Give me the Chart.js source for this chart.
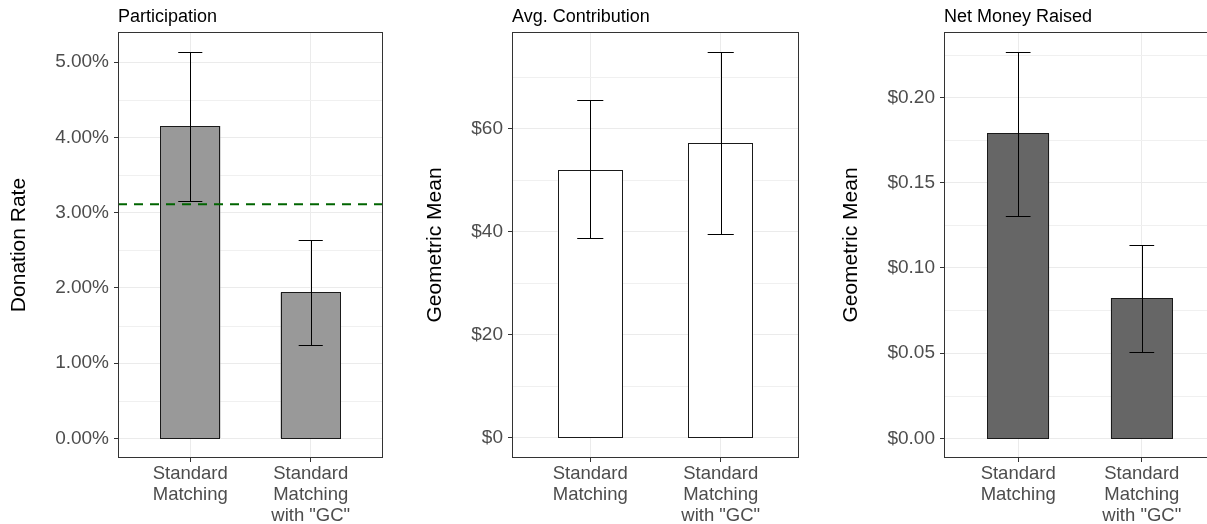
<!DOCTYPE html>
<html>
<head>
<meta charset="utf-8">
<script src="https://cdn.jsdelivr.net/npm/chart.js@4.4.0/dist/chart.umd.min.js"></script>
<style>
  html, body { margin: 0; padding: 0; background: #fff; }
  #wrap { position: relative; width: 1207px; height: 524px; overflow: hidden; background: #fff; }
  #wrap canvas { position: absolute; top: 0; }
</style>
</head>
<body>
<div id="wrap">
  <canvas id="chartParticipation" width="400" height="524" style="left:0"></canvas>
  <canvas id="chartContribution" width="410" height="524" style="left:400px"></canvas>
  <canvas id="chartNetRaised" width="406" height="524" style="left:810px"></canvas>
</div>
<script>
// groups on the x axis (multi-line labels)
const categories = [['Standard', 'Matching'], ['Standard', 'Matching', 'with "GC"']];

// Participation: donation rate in %, with confidence bounds
const participation = [4.15, 1.94];
const participationLow = [3.15, 1.24];
const participationHigh = [5.14, 2.64];
const baselineRate = 3.11;
const participationTicks = [0, 1, 2, 3, 4, 5];

// Avg. contribution: geometric mean in $
const contribution = [52.0, 57.2];
const contributionLow = [38.8, 39.6];
const contributionHigh = [65.5, 74.9];
const contributionTicks = [0, 20, 40, 60];

// Net money raised: geometric mean in $
const netRaised = [0.179, 0.0823];
const netRaisedLow = [0.1304, 0.0505];
const netRaisedHigh = [0.2268, 0.1134];
const netRaisedTicks = [0, 0.05, 0.10, 0.15, 0.20];

const FONT = '"Liberation Sans", Arial, sans-serif';
Chart.defaults.font.family = FONT;

// minor grid, bar outlines, error bars, reference line, frame and panel title
const panelPlugin = {
  id: 'panel',
  beforeDatasetsDraw(chart, args, opts) {
    const { ctx, chartArea: a, scales: { y } } = chart;
    const t = opts.ticks;
    const step = t[1] - t[0];
    ctx.save();
    ctx.strokeStyle = '#f0f0f0';
    ctx.lineWidth = 1;
    for (let i = 0; i < t.length; i++) {
      const v = t[i] + step / 2;
      if (v > y.max) break;
      const py = Math.round(y.getPixelForValue(v)) + 0.5;
      ctx.beginPath();
      ctx.moveTo(a.left, py);
      ctx.lineTo(a.right, py);
      ctx.stroke();
    }
    ctx.restore();
  },
  afterDatasetsDraw(chart, args, opts) {
    const { ctx, chartArea: a, scales: { x, y } } = chart;
    ctx.save();
    ctx.strokeStyle = '#1a1a1a';
    ctx.lineWidth = 1;
    chart.getDatasetMeta(0).data.forEach(bar => {
      const p = bar.getProps(['x', 'y', 'base', 'width'], true);
      const l = Math.round(p.x - p.width / 2) + 0.5;
      const r = Math.round(p.x + p.width / 2) - 0.5;
      const t = Math.round(p.y) + 0.5;
      const b = Math.round(p.base) + 0.5;
      ctx.strokeRect(l, t, r - l, b - t);
    });
    ctx.strokeStyle = '#000';
    opts.low.forEach((lo, i) => {
      const cx = Math.round(x.getPixelForValue(i + 1)) + 0.5;
      const l = x.getPixelForValue(i + 0.9);
      const r = x.getPixelForValue(i + 1.1);
      const top = Math.round(y.getPixelForValue(opts.high[i])) + 0.5;
      const bot = Math.round(y.getPixelForValue(lo)) + 0.5;
      ctx.beginPath();
      ctx.moveTo(cx, top); ctx.lineTo(cx, bot);
      ctx.moveTo(l, top); ctx.lineTo(r, top);
      ctx.moveTo(l, bot); ctx.lineTo(r, bot);
      ctx.stroke();
    });
    if (opts.refLine !== undefined) {
      const py = y.getPixelForValue(opts.refLine);
      ctx.strokeStyle = '#006400';
      ctx.lineWidth = 2;
      ctx.setLineDash([9, 7]);
      ctx.beginPath();
      ctx.moveTo(a.left, py);
      ctx.lineTo(a.right, py);
      ctx.stroke();
      ctx.setLineDash([]);
    }
    ctx.strokeStyle = '#333';
    ctx.lineWidth = 1;
    ctx.strokeRect(a.left + 0.5, a.top + 0.5, a.width - 1, a.height - 1);
    ctx.fillStyle = '#000';
    ctx.font = '18px ' + FONT;
    ctx.textBaseline = 'alphabetic';
    ctx.textAlign = 'left';
    ctx.fillText(opts.title, a.left, 22);
    ctx.restore();
  }
};

function makePanel(id, cfg) {
  new Chart(document.getElementById(id), {
    type: 'bar',
    data: {
      datasets: [{
        data: cfg.values.map((v, i) => ({ x: i + 1, y: v })),
        backgroundColor: cfg.fill,
        borderWidth: 0,
        barPercentage: 0.5,
        categoryPercentage: 1
      }]
    },
    options: {
      responsive: false,
      animation: false,
      events: [],
      layout: { padding: { top: 32, right: cfg.padRight, left: 0, bottom: 0 } },
      plugins: {
        legend: { display: false },
        tooltip: { enabled: false },
        panel: { title: cfg.title, low: cfg.low, high: cfg.high, ticks: cfg.ticks, refLine: cfg.refLine }
      },
      scales: {
        x: {
          type: 'linear',
          min: 0.4,
          max: 2.6,
          offset: false,
          afterBuildTicks: s => { s.ticks = categories.map((c, i) => ({ value: i + 1 })); },
          afterFit: s => { s.height = 66; },
          ticks: {
            callback: v => categories[v - 1],
            color: '#4d4d4d',
            font: { size: 18.5, lineHeight: 1.15 },
            padding: 1,
            maxRotation: 0,
            autoSkip: false
          },
          grid: { color: '#ebebeb', tickColor: '#333', tickLength: 4, offset: false },
          border: { display: false }
        },
        y: {
          min: cfg.min,
          max: cfg.max,
          afterBuildTicks: s => { s.ticks = cfg.ticks.map(v => ({ value: v })); },
          afterFit: s => { s.width = cfg.axisWidth; },
          ticks: {
            callback: cfg.format,
            color: '#4d4d4d',
            font: { size: 19 },
            padding: 5
          },
          grid: { color: '#ebebeb', tickColor: '#333', tickLength: 4 },
          border: { display: false },
          title: {
            display: true,
            text: cfg.yTitle,
            color: '#000',
            font: { size: 21 },
            padding: { top: cfg.titlePad, bottom: 0 }
          }
        }
      }
    },
    plugins: [panelPlugin]
  });
}

makePanel('chartParticipation', {
  title: 'Participation', yTitle: 'Donation Rate',
  values: participation, low: participationLow, high: participationHigh,
  refLine: baselineRate, ticks: participationTicks,
  min: -0.26, max: 5.40, fill: '#999999',
  format: v => v.toFixed(2) + '%',
  axisWidth: 118, padRight: 17, titlePad: 6.6
});

makePanel('chartContribution', {
  title: 'Avg. Contribution', yTitle: 'Geometric Mean',
  values: contribution, low: contributionLow, high: contributionHigh,
  ticks: contributionTicks,
  min: -3.9, max: 78.7, fill: '#ffffff',
  format: v => '$' + v,
  axisWidth: 112, padRight: 11, titlePad: 22.4
});

makePanel('chartNetRaised', {
  title: 'Net Money Raised', yTitle: 'Geometric Mean',
  values: netRaised, low: netRaisedLow, high: netRaisedHigh,
  ticks: netRaisedTicks,
  min: -0.0115, max: 0.2383, fill: '#666666',
  format: v => '$' + v.toFixed(2),
  axisWidth: 134, padRight: 0, titlePad: 28.4
});
</script>
</body>
</html>
